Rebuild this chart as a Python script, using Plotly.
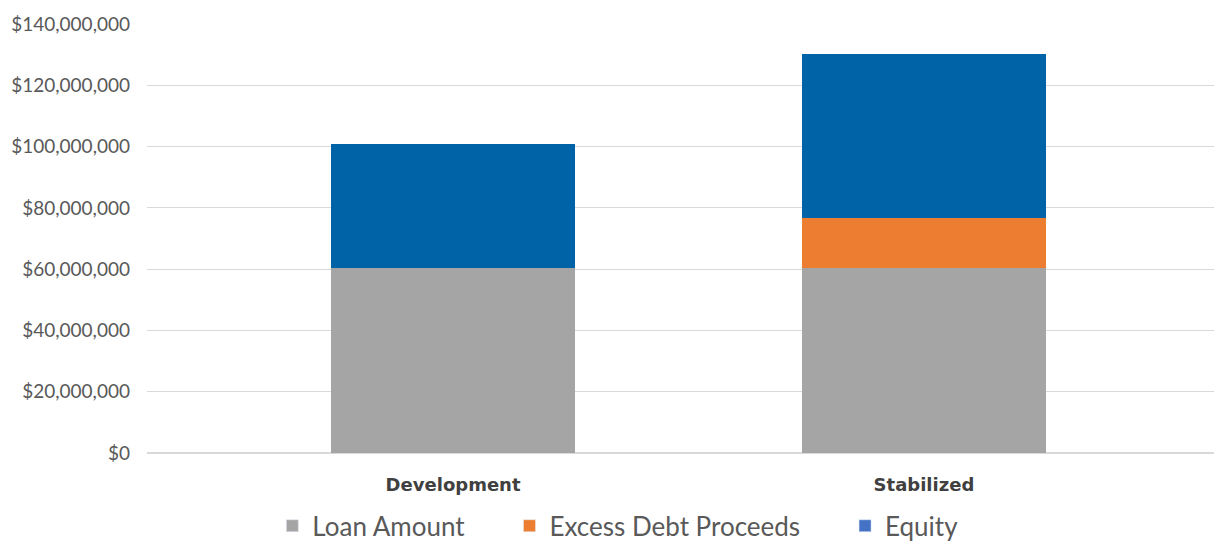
import plotly.graph_objects as go

categories = ["Development", "Stabilized"]
loan_amount = [60400000, 60400000]
excess_debt = [0, 16300000]
equity = [40400000, 53500000]
tick_vals = [0, 20000000, 40000000, 60000000, 80000000, 100000000, 120000000, 140000000]
tick_text = ["$0", "$20,000,000", "$40,000,000", "$60,000,000", "$80,000,000",
             "$100,000,000", "$120,000,000", "$140,000,000"]

series = [
    ("Loan Amount", loan_amount, "#A5A5A5", "#A5A5A5"),
    ("Excess Debt Proceeds", excess_debt, "#ED7D31", "#ED7D31"),
    ("Equity", equity, "#0063A7", "#4472C4"),
]

pad = "\u00a0" * 6
fig = go.Figure()
for name, vals, bar_col, leg_col in series:
    fig.add_trace(go.Bar(x=categories, y=vals, name=name, marker_color=bar_col,
                         marker_line_width=0, width=0.52, showlegend=False))
for i, (name, vals, bar_col, leg_col) in enumerate(series):
    label = name + (pad if i < len(series) - 1 else "")
    fig.add_trace(go.Bar(x=[categories[0]], y=[None], name=label,
                         marker_color=leg_col, showlegend=True))

fig.update_layout(
    barmode="stack",
    width=1214, height=535,
    margin=dict(l=139, r=0, t=16, b=90, autoexpand=False),
    plot_bgcolor="white", paper_bgcolor="white",
    font=dict(family="Lato, sans-serif", color="#595959"),
    xaxis=dict(type="category", range=[-0.65, 1.633], showgrid=False, automargin=False,
               tickfont=dict(size=18, family="DejaVu Sans, sans-serif", color="#404040"),
               tickprefix="<b>", ticksuffix="</b>", ticks="", showline=False,
               ticklabelstandoff=19),
    yaxis=dict(range=[0, 140000000], tickvals=tick_vals, ticktext=tick_text, automargin=False,
               gridcolor="#D9D9D9", gridwidth=1, zeroline=True, zerolinecolor="#D9D9D9",
               tickfont=dict(size=19, color="#595959"), ticks="", ticklabelstandoff=16),
    legend=dict(orientation="h", x=0.438, xanchor="center", y=-0.115,
                yanchor="top",
                font=dict(size=26, color="#595959"), itemwidth=30,
                traceorder="normal"),
    bargap=0.48,
)

fig.write_html("out.html")
